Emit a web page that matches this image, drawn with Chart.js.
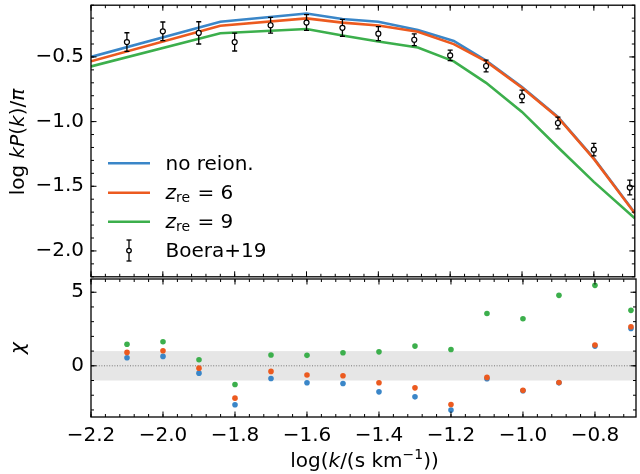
<!DOCTYPE html>
<html><head><meta charset="utf-8">
<script src="https://cdn.jsdelivr.net/npm/chart.js@4.4.0/dist/chart.umd.min.js"></script>
<style>
html,body{margin:0;padding:0;background:#fff;}
#wrap{position:relative;width:640px;height:474px;overflow:hidden;background:#fff;}
#c1{position:absolute;left:0;top:0;}
#c2{position:absolute;left:0;top:270px;}
#ov{position:absolute;left:0;top:0;pointer-events:none;font-family:"DejaVu Sans",sans-serif;}
</style></head>
<body>
<div id="wrap">
<canvas id="c1" width="640" height="282"></canvas>
<canvas id="c2" width="640" height="204"></canvas>
<svg id="ov" width="640" height="474" xmlns="http://www.w3.org/2000/svg" font-family="DejaVu Sans" font-size="20" fill="#000">
  <!-- legend -->
  <line x1="108" x2="150" y1="163.3" y2="163.3" stroke="#3a86c8" stroke-width="2.6"/>
  <text x="165.5" y="170">no reion.</text>
  <line x1="108" x2="150" y1="192.7" y2="192.7" stroke="#ec5a1f" stroke-width="2.6"/>
  <text x="165.5" y="199.3"><tspan font-style="italic">z</tspan><tspan font-size="14" dy="3">re</tspan><tspan dy="-3" dx="1"> = 6</tspan></text>
  <line x1="108" x2="150" y1="221.7" y2="221.7" stroke="#3caf4c" stroke-width="2.6"/>
  <text x="165.5" y="228.3"><tspan font-style="italic">z</tspan><tspan font-size="14" dy="3">re</tspan><tspan dy="-3" dx="1"> = 9</tspan></text>
  <g stroke="#000" stroke-width="1.3">
    <line x1="129" x2="129" y1="240" y2="261"/>
    <line x1="126.5" x2="131.5" y1="240" y2="240"/>
    <line x1="126.5" x2="131.5" y1="261" y2="261"/>
    <circle cx="129" cy="250.6" r="2.3" fill="#fff"/>
  </g>
  <text x="165.5" y="257.3">Boera+19</text>
  <!-- axis titles -->
  <text transform="translate(24,142) rotate(-90)" text-anchor="middle">log <tspan font-style="italic">kP</tspan>(<tspan font-style="italic">k</tspan>)/<tspan font-style="italic">π</tspan></text>
  <text transform="translate(24,348) rotate(-90)" text-anchor="middle" font-style="italic">χ</text>
  <text x="364.5" y="467" text-anchor="middle">log(<tspan font-style="italic">k</tspan>/(s km<tspan font-size="14" dy="-8">−1</tspan><tspan dy="8">))</tspan></text>
</svg>
</div>
<script>
// ---------------- data ----------------
const xTickValues = [-2.2, -2.0, -1.8, -1.6, -1.4, -1.2, -1.0, -0.8];
const xTickLabels = ["−2.2", "−2.0", "−1.8", "−1.6", "−1.4", "−1.2", "−1.0", "−0.8"];
const topYTickValues = [-2.0, -1.5, -1.0, -0.5];
const topYTickLabels = ["−2.0", "−1.5", "−1.0", "−0.5"];
const botYTickValues = [0, 5];
const botYTickLabels = ["0", "5"];

// model curves (top panel)
const modelX =        [-2.2,  -1.84,  -1.6,   -1.5,   -1.4,   -1.29,  -1.19,  -1.1,   -1.0,   -0.9,   -0.8,   -0.686];
const modelNoReion =  [-0.500, -0.228, -0.164, -0.207, -0.228, -0.292, -0.376, -0.528, -0.733, -0.964, -1.284, -1.705];
const modelZre6 =     [-0.534, -0.259, -0.202, -0.235, -0.257, -0.305, -0.401, -0.534, -0.738, -0.968, -1.288, -1.709];
const modelZre9 =     [-0.573, -0.317, -0.284, -0.335, -0.380, -0.427, -0.534, -0.700, -0.925, -1.198, -1.466, -1.747];

// Boera+19 data
const dataX   = [-2.1, -2.0, -1.9, -1.8, -1.7, -1.6, -1.5, -1.4, -1.3, -1.2, -1.1, -1.0, -0.9, -0.8, -0.7];
const dataY   = [-0.385, -0.302, -0.314, -0.385, -0.255, -0.234, -0.275, -0.320, -0.367, -0.488, -0.570, -0.805, -1.011, -1.217, -1.510];
const dataErr = [0.072, 0.072, 0.086, 0.069, 0.061, 0.061, 0.065, 0.054, 0.045, 0.041, 0.045, 0.048, 0.045, 0.048, 0.057];

// chi residuals (bottom panel)
const chiNoReion = [0.55, 0.64, -0.50, -2.65, -0.86, -1.15, -1.20, -1.77, -2.11, -3.01, -0.88, -1.70, -1.16, 1.34, 2.54];
const chiZre6    = [0.91, 1.02, -0.16, -2.20, -0.38, -0.63, -0.68, -1.15, -1.50, -2.63, -0.79, -1.67, -1.13, 1.41, 2.65];
const chiZre9    = [1.46, 1.63, 0.41, -1.27, 0.73, 0.71, 0.89, 0.95, 1.34, 1.11, 3.56, 3.20, 4.79, 5.47, 3.77];

const bandLow = -1, bandHigh = 1;
// ---------------- styles ----------------
const X_MIN = -2.2, X_MAX = -0.686;
const BLUE = '#3a86c8', ORANGE = '#ec5a1f', GREEN = '#3caf4c';
const FONT = {family: "'DejaVu Sans', sans-serif", size: 20};
Chart.defaults.font.family = "'DejaVu Sans', sans-serif";
Chart.defaults.color = '#000';

const pts = (xs, ys) => xs.map((x, i) => ({x: x, y: ys[i]}));
const noPad = s => { s.paddingTop = 0; s.paddingBottom = 0; s.paddingLeft = 0; s.paddingRight = 0; };

function framePlugin(xMajor, xMinorStep, yMajorStep, yMinorStep) {
  return {
    id: 'frame',
    afterDraw(chart) {
      const {ctx, chartArea: a, scales: {x, y}} = chart;
      ctx.save();
      ctx.strokeStyle = '#000';
      ctx.lineWidth = 1;
      const vt = (v, len) => {
        const px = x.getPixelForValue(v);
        if (px < a.left - 0.5 || px > a.right + 0.5) return;
        ctx.beginPath();
        ctx.moveTo(px, a.bottom); ctx.lineTo(px, a.bottom - len);
        ctx.moveTo(px, a.top); ctx.lineTo(px, a.top + len);
        ctx.stroke();
      };
      const ht = (v, len) => {
        const py = y.getPixelForValue(v);
        if (py < a.top - 0.5 || py > a.bottom + 0.5) return;
        ctx.beginPath();
        ctx.moveTo(a.left, py); ctx.lineTo(a.left + len, py);
        ctx.moveTo(a.right, py); ctx.lineTo(a.right - len, py);
        ctx.stroke();
      };
      for (let k = Math.ceil(x.min / xMinorStep - 1e-6); k * xMinorStep <= x.max + 1e-9; k++) vt(k * xMinorStep, 3);
      xMajor.forEach(v => vt(v, 5.5));
      for (let k = Math.ceil(y.min / yMinorStep - 1e-6); k * yMinorStep <= y.max + 1e-9; k++) ht(k * yMinorStep, 3);
      for (let k = Math.ceil(y.min / yMajorStep - 1e-6); k * yMajorStep <= y.max + 1e-9; k++) ht(k * yMajorStep, 5.5);
      ctx.lineWidth = 1.3;
      ctx.strokeRect(a.left, a.top, a.right - a.left, a.bottom - a.top);
      ctx.restore();
    }
  };
}

const errorBarPlugin = {
  id: 'errbars',
  beforeDatasetDraw(chart, args) {
    const ds = chart.data.datasets[args.index];
    if (!ds.errors) return;
    const {ctx, scales: {x, y}} = chart;
    ctx.save();
    ctx.strokeStyle = '#000';
    ctx.lineWidth = 1.3;
    ds.data.forEach((p, i) => {
      const px = x.getPixelForValue(p.x);
      const y1 = y.getPixelForValue(p.y - ds.errors[i]);
      const y2 = y.getPixelForValue(p.y + ds.errors[i]);
      ctx.beginPath();
      ctx.moveTo(px, y1); ctx.lineTo(px, y2);
      ctx.moveTo(px - 2.5, y1); ctx.lineTo(px + 2.5, y1);
      ctx.moveTo(px - 2.5, y2); ctx.lineTo(px + 2.5, y2);
      ctx.stroke();
    });
    ctx.restore();
  }
};

const bandPlugin = {
  id: 'band',
  beforeDatasetsDraw(chart) {
    const {ctx, chartArea: a, scales: {y}} = chart;
    const yTop = y.getPixelForValue(bandHigh), yBot = y.getPixelForValue(bandLow), y0 = y.getPixelForValue(0);
    ctx.save();
    ctx.fillStyle = '#e6e6e6';
    ctx.fillRect(a.left, yTop, a.right - a.left, yBot - yTop);
    ctx.strokeStyle = '#777';
    ctx.lineWidth = 1;
    ctx.setLineDash([1, 1.6]);
    ctx.beginPath(); ctx.moveTo(a.left, y0); ctx.lineTo(a.right, y0); ctx.stroke();
    ctx.restore();
  }
};

const lineDs = (data, color, order) => ({data: data, showLine: true, borderColor: color, borderWidth: 2.6,
  pointRadius: 0, fill: false, tension: 0, order: order});
const dotDs = (data, color, order) => ({data: data, showLine: false, pointRadius: 2.8, pointBorderWidth: 0,
  pointBackgroundColor: color, backgroundColor: color, borderColor: color, order: order});

new Chart(document.getElementById('c1'), {
  type: 'scatter',
  data: {datasets: [
    {data: pts(dataX, dataY), errors: dataErr, showLine: false, pointRadius: 2.5, pointBorderWidth: 1.2,
      pointBackgroundColor: '#fff', pointBorderColor: '#000', order: 0},
    lineDs(pts(modelX, modelZre9), GREEN, 1),
    lineDs(pts(modelX, modelZre6), ORANGE, 2),
    lineDs(pts(modelX, modelNoReion), BLUE, 3)
  ]},
  options: {
    responsive: false, animation: false, devicePixelRatio: 1,
    layout: {padding: {left: 0, right: 2, top: 5, bottom: 3}},
    plugins: {legend: {display: false}, tooltip: {enabled: false}},
    scales: {
      x: {type: 'linear', min: X_MIN, max: X_MAX, display: false},
      y: {type: 'linear', min: -2.2, max: -0.1,
        grid: {display: false, drawTicks: false}, border: {display: false},
        afterBuildTicks: s => { s.ticks = topYTickValues.map(v => ({value: v})); },
        afterFit: s => { s.width = 91; noPad(s); },
        ticks: {padding: 7, color: '#000', font: FONT, callback: (v, i) => topYTickLabels[i]}
      }
    }
  },
  plugins: [errorBarPlugin, framePlugin(xTickValues, 0.04, 0.5, 0.1)]
});

new Chart(document.getElementById('c2'), {
  type: 'scatter',
  data: {datasets: [
    dotDs(pts(dataX, chiZre9), GREEN, 1),
    dotDs(pts(dataX, chiZre6), ORANGE, 2),
    dotDs(pts(dataX, chiNoReion), BLUE, 3)
  ]},
  options: {
    responsive: false, animation: false, devicePixelRatio: 1,
    layout: {padding: {left: 0, right: 2, top: 9, bottom: 0}},
    plugins: {legend: {display: false}, tooltip: {enabled: false}},
    scales: {
      x: {type: 'linear', min: X_MIN, max: X_MAX,
        grid: {display: false, drawTicks: false}, border: {display: false},
        afterBuildTicks: s => { s.ticks = xTickValues.map(v => ({value: v})); },
        afterFit: s => { s.height = 57; noPad(s); },
        ticks: {padding: 7, color: '#000', font: FONT, maxRotation: 0, autoSkip: false,
          callback: (v, i) => xTickLabels[i]}
      },
      y: {type: 'linear', min: -3.48, max: 5.9,
        grid: {display: false, drawTicks: false}, border: {display: false},
        afterBuildTicks: s => { s.ticks = botYTickValues.map(v => ({value: v})); },
        afterFit: s => { s.width = 91; noPad(s); },
        ticks: {padding: 7, color: '#000', font: FONT, callback: (v, i) => botYTickLabels[i]}
      }
    }
  },
  plugins: [bandPlugin, framePlugin(xTickValues, 0.04, 5, 1)]
});
</script>
</body></html>
